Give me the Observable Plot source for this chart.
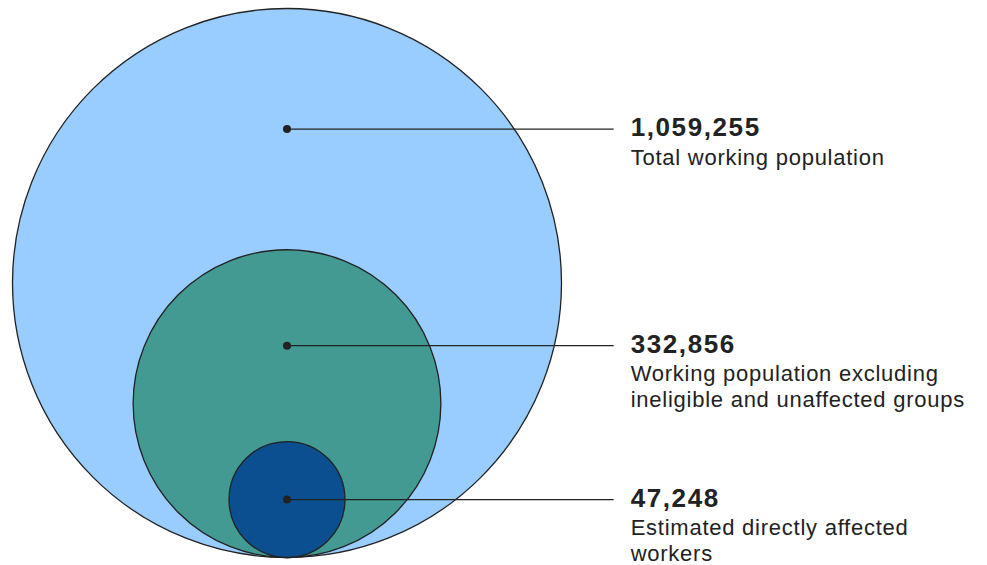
<!DOCTYPE html>
<html>
<head>
<meta charset="utf-8">
<script src="https://cdn.jsdelivr.net/npm/d3@7"></script>
<script src="https://cdn.jsdelivr.net/npm/@observablehq/plot@0.6"></script>
<style>
  html, body { margin: 0; padding: 0; background: #fff; }
  #chart svg { display: block; }
  #chart svg text { font-family: "Liberation Sans", Arial, Helvetica, sans-serif; }
  #chart g[font-weight="bold"] text { letter-spacing: 1.6px; }
  #chart g[font-size="22"] text { letter-spacing: 0.75px; }
</style>
</head>
<body>
<div id="chart"></div>
<script>
const labels = ["Total working population", "Working population excluding\nineligible and unaffected groups", "Estimated directly affected\nworkers"];
const values = [1059255, 332856, 47248];
const colors = ["#99ccff", "#429a92", "#0b4f91"];

const maxV = d3.max(values);
const rUnit = values.map(v => Math.sqrt(v / maxV)); // radius in big-radius units
const circles = values.map((v, i) => ({label: labels[i], value: v, cy: rUnit[i]}));
// annotation anchor: middle of the visible ring of each circle
const anchors = values.map((v, i) => {
  const top = 2 * rUnit[i];
  const nextTop = i + 1 < values.length ? 2 * rUnit[i + 1] : rUnit[i];
  const y = i + 1 < values.length ? (top + nextTop) / 2 : rUnit[i];
  return {label: labels[i], num: d3.format(",")(v), y};
});

const LINE_END = 1.19, TEXT_X = 1.252;
const FONT = "'Liberation Sans', Arial, Helvetica, sans-serif";

const chart = Plot.plot({
  width: 987,
  height: 565,
  margin: 0,
  style: {background: "#fff", fontFamily: FONT, color: "#222"},
  x: {domain: [-1, 1], range: [12, 561], axis: null},
  y: {domain: [0, 2], range: [557, 8], axis: null},
  r: {type: "sqrt", domain: [0, maxV], range: [0, 274.5]},
  color: {domain: labels, range: colors},
  marks: [
    Plot.dot(circles, {x: 0, y: "cy", r: "value", fill: "label", stroke: "#222", strokeWidth: 1.3, fillOpacity: 1, sort: null}),
    Plot.link(anchors, {x1: 0, x2: LINE_END, y1: "y", y2: "y", stroke: "#222", strokeWidth: 1.3}),
    Plot.dot(anchors, {x: 0, y: "y", r: 4, fill: "#222", stroke: null}),
    Plot.text(anchors, {x: TEXT_X, y: "y", text: "num", textAnchor: "start", lineAnchor: "bottom", dy: 7, fontSize: 26, fontWeight: "bold", fontFamily: FONT, fill: "#222"}),
    Plot.text(anchors, {x: TEXT_X, y: "y", text: "label", textAnchor: "start", lineAnchor: "top", dy: 17, fontSize: 22, lineHeight: 1.18, fontFamily: FONT, fill: "#222"})
  ]
});
document.getElementById("chart").appendChild(chart);
</script>
</body>
</html>
